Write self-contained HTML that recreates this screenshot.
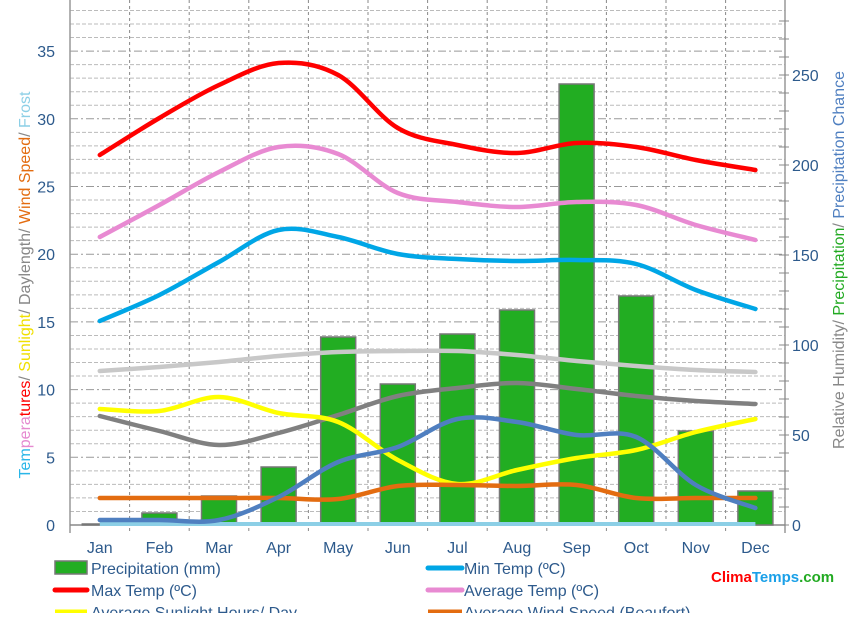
<!DOCTYPE html>
<html><head><meta charset="utf-8"><style>
body{margin:0;background:#fff;width:851px;height:613px;overflow:hidden}
text{font-family:"Liberation Sans",sans-serif}
</style></head><body>
<svg id="s" width="851" height="613" xmlns="http://www.w3.org/2000/svg">
<g id="grid"></g>
<g id="bars"></g>
<g id="lines"></g>
<g id="lab" fill="#2d5a8c" font-size="16"></g>
<text transform="translate(30,285) rotate(-90)" text-anchor="middle" font-size="16"><tspan fill="#29b6e8">Tem</tspan><tspan fill="#e58ad0">pera</tspan><tspan fill="#f00">tures</tspan><tspan fill="#888">/ </tspan><tspan fill="#f0e000">Sunlight</tspan><tspan fill="#888">/ Daylength/ </tspan><tspan fill="#e36c10">Wind Speed</tspan><tspan fill="#888">/ </tspan><tspan fill="#8ccfe6">Frost</tspan></text>
<text transform="translate(844,260) rotate(-90)" text-anchor="middle" font-size="16"><tspan fill="#888">Relative Humidity/ </tspan><tspan fill="#22aa22">Precipitation</tspan><tspan fill="#888">/ </tspan><tspan fill="#4f7fc0">Precipitation Chance</tspan></text>
<g font-size="16" fill="#2d5a8c">
<rect x="55" y="561" width="32" height="13" fill="#22ad22" stroke="#777" stroke-width="1.5"/>
<text x="91" y="574">Precipitation (mm)</text>
<line x1="55" y1="590" x2="87" y2="590" stroke="#f00" stroke-width="5" stroke-linecap="round"/>
<text x="91" y="596">Max Temp (ºC)</text>
<line x1="55" y1="612" x2="87" y2="612" stroke="#ff0" stroke-width="5"/>
<text x="91" y="618">Average Sunlight Hours/ Day</text>
<line x1="428" y1="568" x2="462" y2="568" stroke="#00a6e6" stroke-width="5" stroke-linecap="round"/>
<text x="464" y="574">Min Temp (ºC)</text>
<line x1="428" y1="590" x2="462" y2="590" stroke="#e88ad2" stroke-width="5" stroke-linecap="round"/>
<text x="464" y="596">Average Temp (ºC)</text>
<line x1="428" y1="612" x2="462" y2="612" stroke="#e36c10" stroke-width="5"/>
<text x="464" y="618">Average Wind Speed (Beaufort)</text>
</g>
<text x="711" y="582" font-size="15" font-weight="bold"><tspan fill="#f00">Clima</tspan><tspan fill="#1aa0e8">Temps</tspan><tspan fill="#22aa22">.com</tspan></text>
</svg>
<script>
var NS="http://www.w3.org/2000/svg";
function el(p,t,a){var e=document.createElementNS(NS,t);for(var k in a)e.setAttribute(k,a[k]);document.getElementById(p).appendChild(e);return e;}
var X0=70,X1=785,CW=59.6,Y0=525,PU=13.54;
// horizontal grid
for(var v=0;v<=38;v++){var y=Y0-v*PU;if(y<0)break;
 if(v==0)continue;
 el("grid","line",{x1:X0,x2:X1,y1:y,y2:y,stroke:v%5==0?"#999":"#bbb","stroke-width":1,"stroke-dasharray":v%5==0?"8,3,2,3":"4,2"});}
for(var i=1;i<12;i++){var x=X0+CW*i;el("grid","line",{x1:x,x2:x,y1:0,y2:Y0+8,stroke:"#888","stroke-dasharray":"3,3"});}
el("grid","line",{x1:X0,x2:X0,y1:0,y2:Y0+8,stroke:"#999","stroke-width":1.5});
el("grid","line",{x1:X1,x2:X1,y1:0,y2:Y0+8,stroke:"#999","stroke-width":1.5});
el("grid","line",{x1:X0,x2:X1,y1:Y0,y2:Y0,stroke:"#888","stroke-width":1.5});
for(var r=0;r<=280;r+=10){var y=Y0-r*1.8;if(y<0)break;el("grid","line",{x1:X1-6,x2:X1+4,y1:y,y2:y,stroke:"#888"});}
// labels
var L=document.getElementById("lab");
function tx(x,y,s,a){var t=el("lab","text",{x:x,y:y,"text-anchor":a});t.textContent=s;}
for(var v=0;v<=35;v+=5)tx(55,Y0-v*PU+6,""+v,"end");
for(var r=0;r<=250;r+=50)tx(792,Y0-r*1.8+6,""+r,"start");
var M=["Jan","Feb","Mar","Apr","May","Jun","Jul","Aug","Sep","Oct","Nov","Dec"];
var cx=[];for(var i=0;i<12;i++){cx.push(X0+CW*(i+0.5));tx(cx[i],553,M[i],"middle");}
// bars
var bt=[524,513,496,467,337,384,334,310,84,296,431,491];
for(var i=0;i<12;i++){el("bars","rect",{x:cx[i]-17.5,y:bt[i],width:35,height:Y0-bt[i],fill:"#22ad22",stroke:"#777","stroke-width":1.5});}
function path(ys){var p=[];for(var i=0;i<12;i++)p.push([cx[i],ys[i]]);
 var d="M"+p[0][0]+","+p[0][1];
 for(var i=0;i<11;i++){var a=p[Math.max(i-1,0)],b=p[i],c=p[i+1],e=p[Math.min(i+2,11)];
  var c1=[b[0]+(c[0]-a[0])/6,b[1]+(c[1]-a[1])/6],c2=[c[0]-(e[0]-b[0])/6,c[1]-(e[1]-b[1])/6];
  d+=" C"+c1+" "+c2+" "+c;}return d;}
function line(ys,col){el("lines","path",{d:path(ys),fill:"none",stroke:col,"stroke-width":4.5,"stroke-linecap":"round"});}
el("lines","line",{x1:cx[0],x2:cx[11],y1:524,y2:524,stroke:"#8ccfe6","stroke-width":4});
line([371,367,362,356,352,351,351,355,361,366,370,372],"#c8c8c8");
line([416,431,445,433,415,396,388,383,389,396,401,404],"#808080");
line([409,411,397,413,422,460,484,470,458,450,432,419],"#ffff00");
line([498,498,498,498,499,486,485,486,485,498,498,498],"#e36c10");
line([520,520,520,497,462,447,419,422,435,437,485,508],"#4f7fc0");
line([321,295,262,230,237,254,259,261,260,264,290,309],"#00a6e6");
line([237,205,172,147,154,193,202,207,202,205,225,240],"#e88ad2");
line([155,118,85,63,75,128,145,153,143,147,160,170],"#ff0000");
</script>
</body></html>
